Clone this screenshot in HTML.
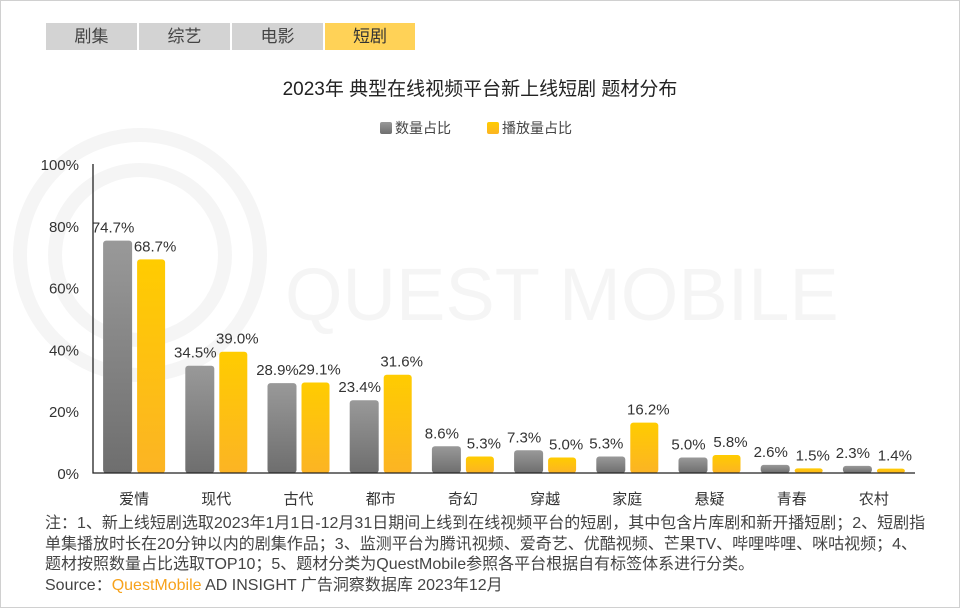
<!DOCTYPE html>
<html><head><meta charset="utf-8">
<style>
body{margin:0;width:960px;height:608px;overflow:hidden;background:#fff;font-family:"Liberation Sans","Noto Sans CJK SC",sans-serif;}
#frame{position:absolute;left:0;top:0;width:958px;height:606px;border:1px solid #d0d0d0;}
.tab{position:absolute;top:23px;height:27px;width:91px;background:#d3d3d3;color:#444;font-size:17px;text-align:center;line-height:27px;}
#notes{position:absolute;left:45px;top:514px;font-size:16px;line-height:20.5px;color:#444;white-space:nowrap;}
</style></head><body>
<div id="frame"></div>
<div class="tab" style="left:46px">剧集</div>
<div class="tab" style="left:139px">综艺</div>
<div class="tab" style="left:232px">电影</div>
<div class="tab" style="left:325px;width:90px;background:#ffd257;color:#333">短剧</div>
<svg id="chart" width="960" height="608" style="position:absolute;left:0;top:0">
<defs>
<linearGradient id="gg" x1="0" y1="0" x2="0" y2="1"><stop offset="0" stop-color="#999"/><stop offset="1" stop-color="#6e6e6e"/></linearGradient>
<linearGradient id="gy" x1="0" y1="0" x2="0" y2="1"><stop offset="0" stop-color="#ffcc00"/><stop offset="1" stop-color="#fcb424"/></linearGradient>
</defs>
<g fill="none" stroke="#f5f5f5" stroke-width="14">
<circle cx="140" cy="255" r="120"/><circle cx="140" cy="255" r="85"/>
</g>
<text x="285" y="320" font-size="74" fill="#f5f5f5" font-family="Liberation Sans">QUEST MOBILE</text>
<text x="480" y="95" text-anchor="middle" font-size="19" fill="#222">2023年 典型在线视频平台新上线短剧 题材分布</text>
<g>
<rect x="380" y="122" width="12" height="12" rx="2" fill="url(#gg)"/>
<text x="395" y="133" font-size="14" fill="#444">数量占比</text>
<rect x="487" y="122" width="12" height="12" rx="2" fill="url(#gy)"/>
<text x="502" y="133" font-size="14" fill="#444">播放量占比</text>
</g>
<g id="plot"></g>
</svg>
<div id="notes">注：1、新上线短剧选取2023年1月1日-12月31日期间上线到在线视频平台的短剧，其中包含片库剧和新开播短剧；2、短剧指<br>单集播放时长在20分钟以内的剧集作品；3、监测平台为腾讯视频、爱奇艺、优酷视频、芒果TV、哔哩哔哩、咪咕视频；4、<br>题材按照数量占比选取TOP10；5、题材分类为QuestMobile参照各平台根据自有标签体系进行分类。<br>Source：<span style="color:#f7a21b">QuestMobile</span> AD INSIGHT 广告洞察数据库 2023年12月</div>
<script>
const categories=["爱情","现代","古代","都市","奇幻","穿越","家庭","悬疑","青春","农村"];
const countShare=[74.7,34.5,28.9,23.4,8.6,7.3,5.3,5.0,2.6,2.3];
const playShare=[68.7,39.0,29.1,31.6,5.3,5.0,16.2,5.8,1.5,1.4];
const yTicks=[0,20,40,60,80,100];
const NS="http://www.w3.org/2000/svg";
const g=document.getElementById('plot');
const X0=93,X1=915,Y0=473,H=311;
const step=(X1-X0)/categories.length;
function y(v){return Y0-v/100*H;}
function yt(v){return Y0-v/100*309;}
function xc(i){return X0+step*(i+0.5);}
function mk(tag,a){const e=document.createElementNS(NS,tag);for(const k in a)e.setAttribute(k,a[k]);g.appendChild(e);return e;}
yTicks.forEach(t=>{const e=mk('text',{x:79,y:yt(t)+6,'text-anchor':'end','font-size':15,fill:'#333'});e.textContent=t+'%';

});
categories.forEach((c,i)=>{
 const cx=xc(i);
 const b1=mk('rect',{x:cx-31,y:y(countShare[i]),width:29,height:Y0-y(countShare[i]),rx:3,fill:'url(#gg)'});
 
 
 const b2=mk('rect',{x:cx+3,y:y(playShare[i]),width:28,height:Y0-y(playShare[i]),rx:3,fill:'url(#gy)'});
 
 
 const t1=mk('text',{x:cx-21,y:y(countShare[i])-8,'text-anchor':'middle','font-size':15,fill:'#333'});t1.textContent=countShare[i].toFixed(1)+'%';
 
 
 const t2=mk('text',{x:cx+21,y:y(playShare[i])-8,'text-anchor':'middle','font-size':15,fill:'#333'});t2.textContent=playShare[i].toFixed(1)+'%';
 
 
 const t3=mk('text',{x:cx,y:504,'text-anchor':'middle','font-size':15,fill:'#333'});t3.textContent=c;
 
 
});
const ax=mk('path',{d:`M${X0} ${Y0-309}V${Y0}H${X1}`,stroke:'#222','stroke-width':1.3,fill:'none'});


</script>
</body></html>
